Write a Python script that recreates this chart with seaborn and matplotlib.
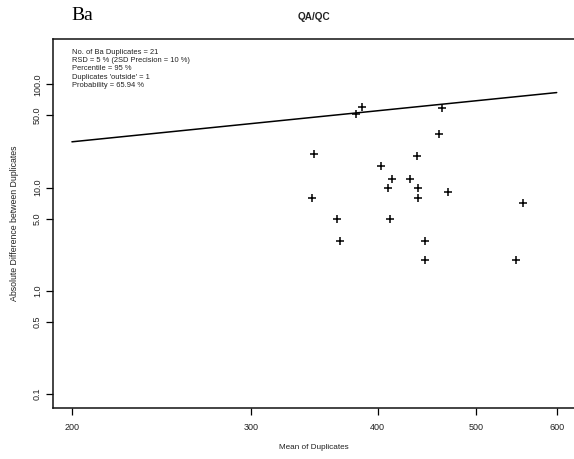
import numpy as np
import pandas as pd
import matplotlib
matplotlib.use("Agg")
import matplotlib.pyplot as plt
import seaborn as sns

# Ba duplicate pairs: mean of the pair and absolute difference between them
mean_dup = [385.7, 380.7, 462.9, 459.5, 346.4, 436.9, 402.9, 413.1, 430.0, 409.6,
            437.8, 344.8, 437.8, 468.7, 555.5, 364.7, 411.5, 367.4, 445.1, 444.8, 546.8]
abs_diff = [60.7, 51.6, 58.9, 33.2, 21.1, 20.1, 16.0, 12.1, 12.1, 10.0,
            10.0, 8.0, 8.0, 9.0, 7.0, 5.0, 5.0, 3.0, 3.0, 2.0, 2.0]

# Precision control line (95th percentile of |difference| at RSD = 5 %)
rsd_pct = 5
z95 = 1.96
line_x = [200, 600]

x_ticks = [200, 300, 400, 500, 600]
y_ticks = [0.1, 0.5, 1.0, 5.0, 10.0, 50.0, 100.0]
y_tick_labels = ["0.1", "0.5", "1.0", "5.0", "10.0", "50.0", "100.0"]

info_lines = [
    "No. of Ba Duplicates = 21",
    "RSD = 5 % (2SD Precision = 10 %)",
    "Percentile = 95 %",
    "Duplicates 'outside' = 1",
    "Probability = 65.94 %",
]

sns.set_theme(style="white")
plt.rcParams["font.family"] = ["Liberation Sans", "DejaVu Sans"]

fig = plt.figure(figsize=(5.74, 4.59), dpi=100)
ax = fig.add_axes([53 / 574, 51 / 459, 521 / 574, 369 / 459])

pts = pd.DataFrame({"mean": mean_dup, "diff": abs_diff})
slope = z95 * np.sqrt(2) * rsd_pct / 100
ctrl = pd.DataFrame({"x": line_x, "y": [slope * v for v in line_x]})

sns.lineplot(data=ctrl, x="x", y="y", ax=ax, color="black", linewidth=1.1)
sns.scatterplot(data=pts, x="mean", y="diff", ax=ax, marker="+", s=40,
                color="black", linewidth=1.1)

ax.set_xscale("log")
ax.set_yscale("log")
ax.set_xlim(191.6, 624)
ax.set_ylim(0.073, 274.8)

ax.xaxis.set_major_locator(matplotlib.ticker.FixedLocator(x_ticks))
ax.xaxis.set_major_formatter(matplotlib.ticker.FixedFormatter([str(v) for v in x_ticks]))
ax.xaxis.set_minor_locator(matplotlib.ticker.NullLocator())
ax.yaxis.set_major_locator(matplotlib.ticker.FixedLocator(y_ticks))
ax.yaxis.set_major_formatter(matplotlib.ticker.FixedFormatter(y_tick_labels))
ax.yaxis.set_minor_locator(matplotlib.ticker.NullLocator())

ax.tick_params(axis="both", which="major", direction="out", length=5, width=0.9,
               color="black", labelsize=6.5, labelcolor="#222222",
               bottom=True, left=True)
ax.tick_params(axis="x", pad=6)
ax.tick_params(axis="y", pad=3)
for lbl in ax.get_yticklabels():
    lbl.set_rotation(90)
    lbl.set_va("center")

for side in ["left", "bottom", "top"]:
    ax.spines[side].set_visible(True)
    ax.spines[side].set_color("#111111")
    ax.spines[side].set_linewidth(1.1)
ax.spines["right"].set_visible(False)

ax.set_xlabel("Mean of Duplicates", fontsize=5.9, color="#222222")
ax.set_ylabel("Absolute Difference between Duplicates", fontsize=6.3, color="#222222")
ax.xaxis.set_label_coords(0.5, -0.108)
ax.yaxis.set_label_coords(-0.073, 0.5)
ax.xaxis.label.set_va("center")
ax.yaxis.label.set_va("center")

ax.text(0.036, 0.973, "\n".join(info_lines), transform=ax.transAxes,
        ha="left", va="top", fontsize=5.4, linespacing=1.25, color="#222222")

fig.text(71.5 / 574, 1 - 20 / 459, "Ba", family=["Liberation Serif", "DejaVu Serif"],
         fontsize=14, ha="left", va="baseline", color="black")
fig.text(314 / 574, 1 - 17 / 459, "QA/QC", fontsize=7.2, fontweight="bold",
         ha="center", va="center", color="#222222")

fig.savefig("out.png", dpi=100, facecolor="white")
